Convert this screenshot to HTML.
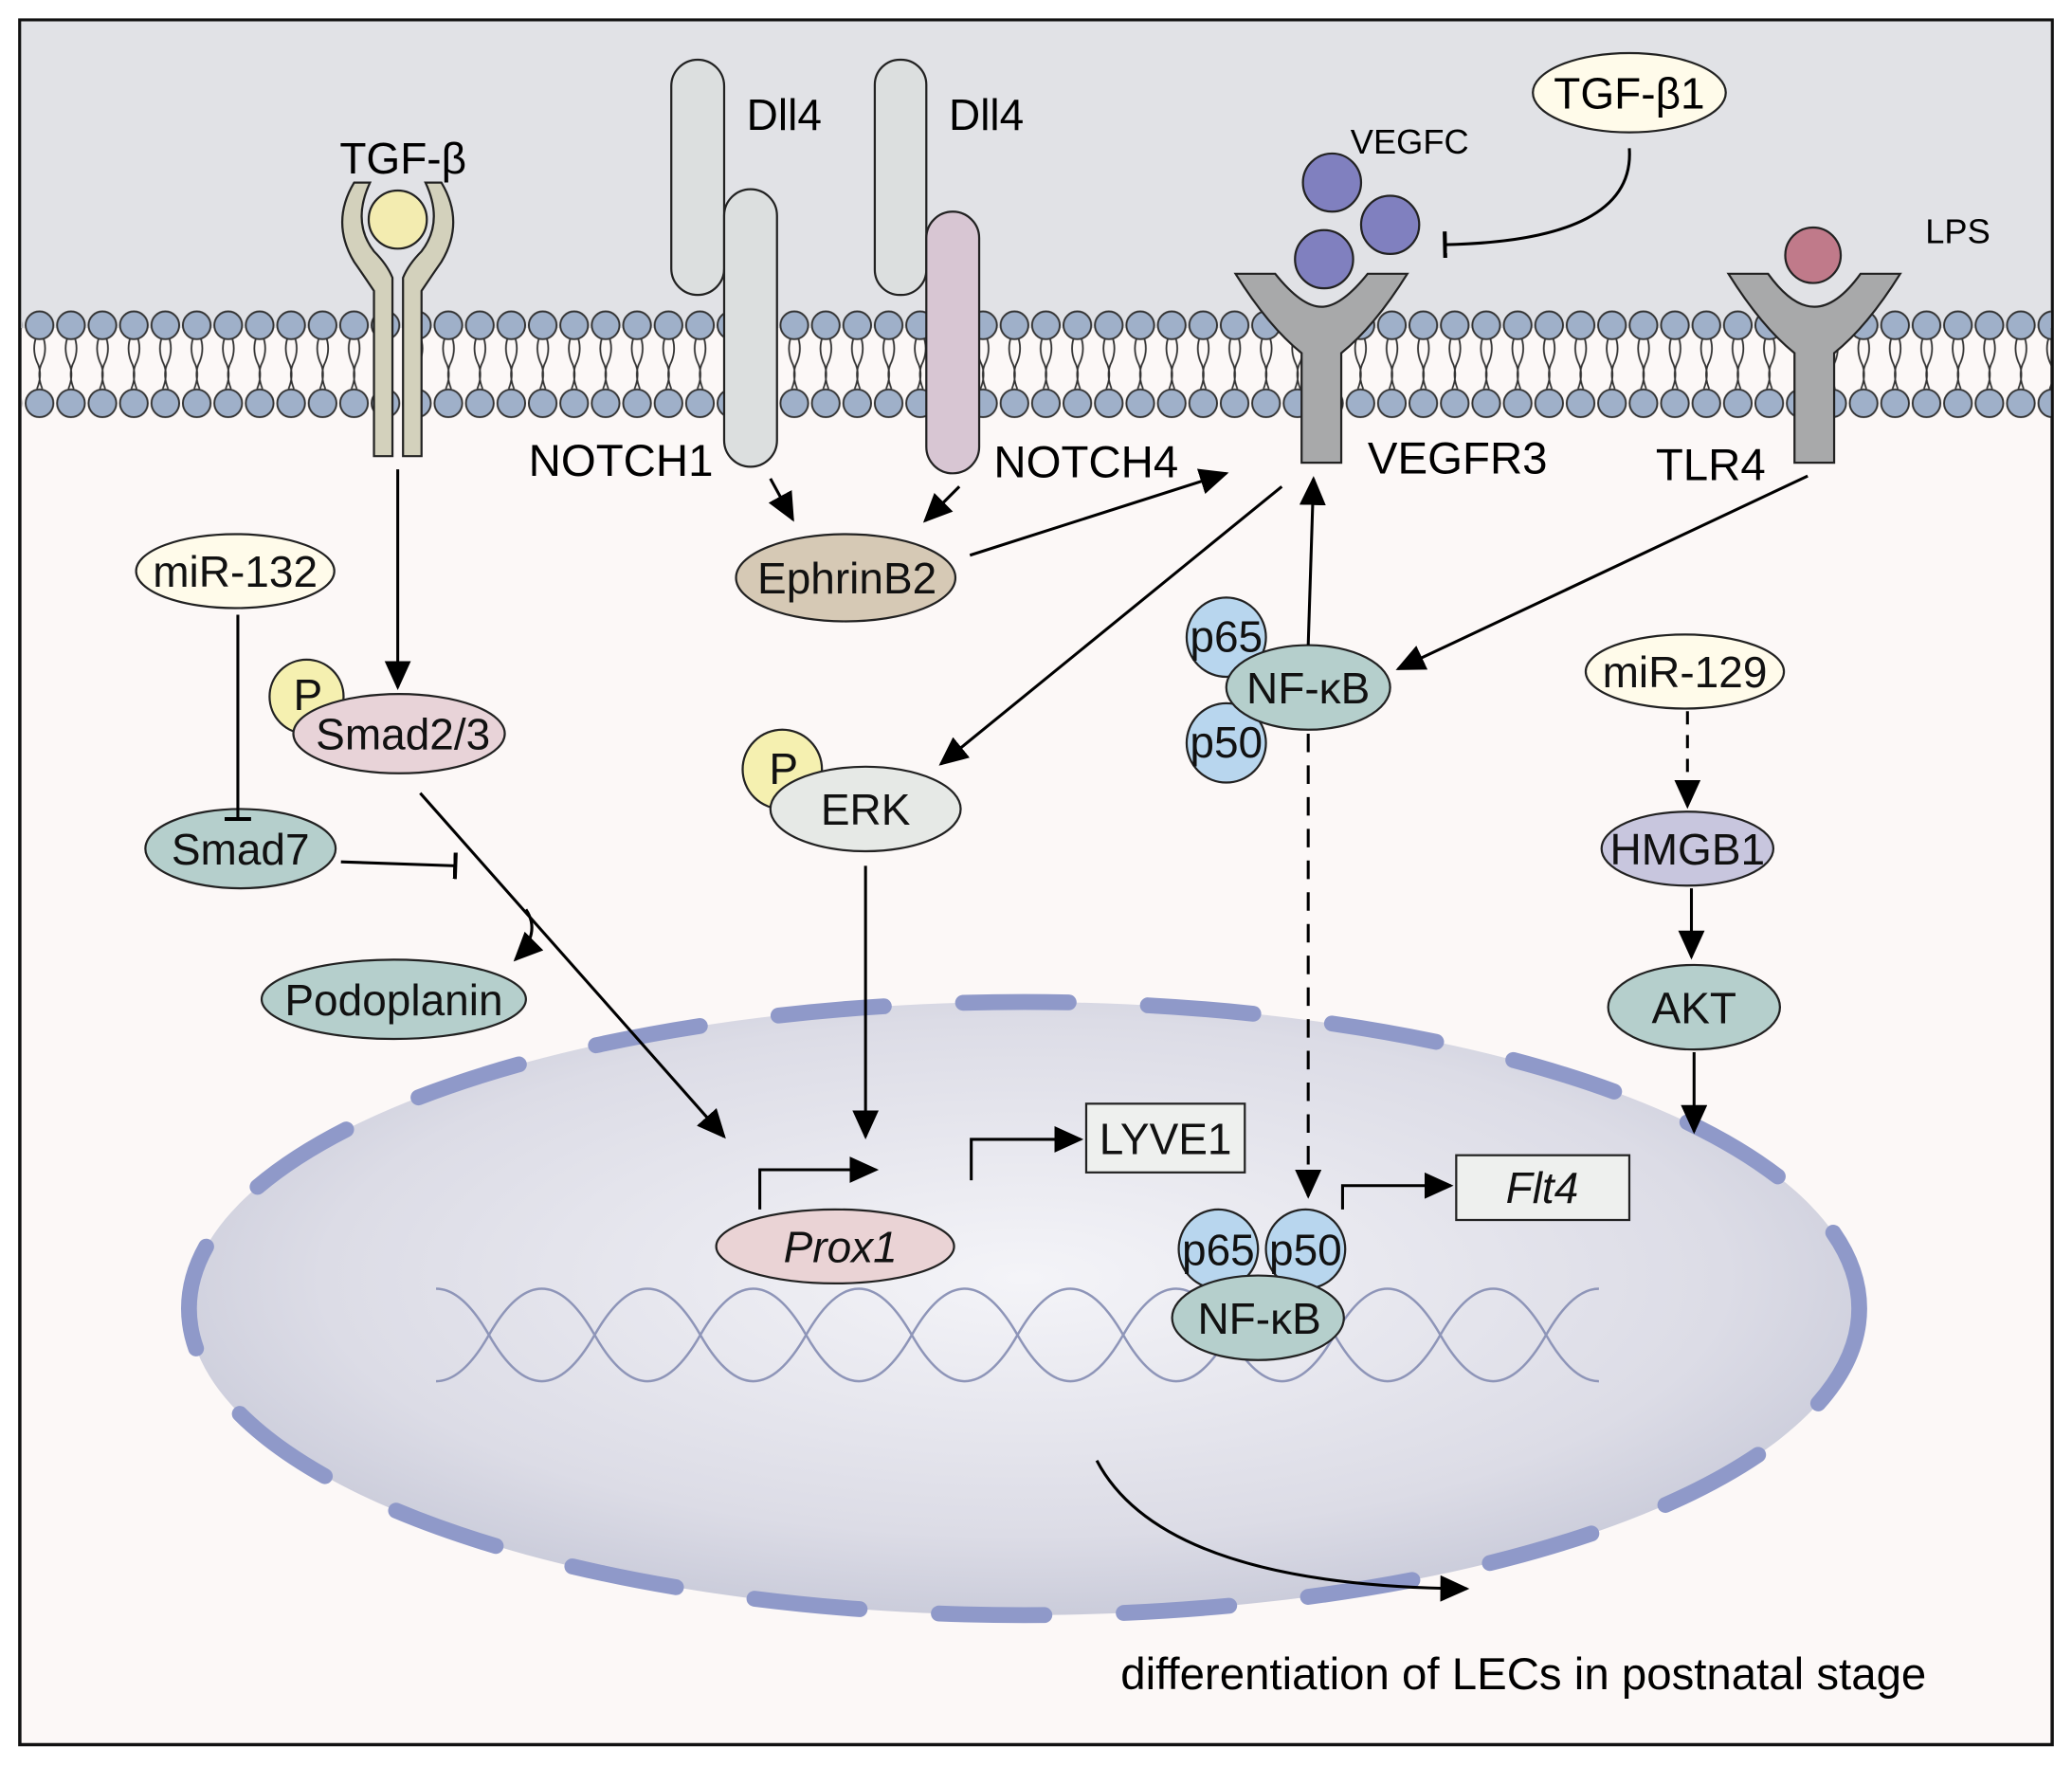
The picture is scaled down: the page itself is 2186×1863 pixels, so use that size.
<!DOCTYPE html>
<html><head><meta charset="utf-8"><style>html,body{margin:0;padding:0;background:#fff}svg{display:block}</style></head>
<body>
<svg width="2186" height="1863" viewBox="0 0 1568 1336" xmlns="http://www.w3.org/2000/svg" font-family="Liberation Sans, sans-serif">
<defs>
<radialGradient id="nuc" cx="50%" cy="45%" r="60%"><stop offset="0" stop-color="#f4f4f8"/><stop offset="0.7" stop-color="#dcdce6"/><stop offset="1" stop-color="#c4c6d6"/></radialGradient>
<marker id="a" markerWidth="22" markerHeight="20" refX="20" refY="10" orient="auto" markerUnits="userSpaceOnUse"><path d="M0,0 L22,10 L0,20z" fill="#000"/></marker>
<marker id="t" markerWidth="4" markerHeight="20" refX="2" refY="10" orient="auto" markerUnits="userSpaceOnUse"><rect x="0" y="0" width="3" height="20" fill="#000"/></marker>
<pattern id="lip" x="18" y="0" width="23.8" height="1336" patternUnits="userSpaceOnUse">
<path d="M9,256 q-3,10 2,20 q3,8 -1,18 M15,256 q3,10 -2,20 q-3,8 1,18" stroke="#333" stroke-width="1.3" fill="none"/>
<circle cx="11.9" cy="246" r="10.5" fill="#9fb0c9" stroke="#333" stroke-width="1.4"/>
<circle cx="11.9" cy="305" r="10.5" fill="#9fb0c9" stroke="#333" stroke-width="1.4"/>
</pattern>
</defs>
<rect x="15" y="15" width="1538" height="1305" fill="#fcf8f7" stroke="#111" stroke-width="2.5"/>
<rect x="16" y="16" width="1536" height="232" fill="#e1e2e6"/>
<rect x="17" y="233" width="1535" height="85" fill="url(#lip)"/>

<path d="M268,198 q-18,-30 0,-60 l12,0 q-14,30 3,52 q10,10 14,20 l0,135 l-14,0 l0,-125 q-8,-12 -15,-22z" fill="#d3d1bc" stroke="#222" stroke-width="1.6"/>
<path d="M334,198 q18,-30 0,-60 l-12,0 q14,30 -3,52 q-10,10 -14,20 l0,135 l14,0 l0,-125 q8,-12 15,-22z" fill="#d3d1bc" stroke="#222" stroke-width="1.6"/>
<circle cx="301" cy="166" r="22" fill="#f3ecb0" stroke="#222" stroke-width="1.6"/>
<text x="305" y="131" font-size="33" text-anchor="middle">TGF-β</text>

<rect x="508" y="45" width="40" height="178" rx="20" fill="#dcdfdf" stroke="#222" stroke-width="1.6"/>
<rect x="548" y="143" width="40" height="210" rx="20" fill="#dcdfdf" stroke="#222" stroke-width="1.6"/>
<rect x="662" y="45" width="39" height="178" rx="19" fill="#dcdfdf" stroke="#222" stroke-width="1.6"/>
<rect x="701" y="160" width="40" height="198" rx="20" fill="#d8c6d3" stroke="#222" stroke-width="1.6"/>
<text x="565" y="98" font-size="33">Dll4</text>
<text x="718" y="98" font-size="33">Dll4</text>
<text x="400" y="360" font-size="34">NOTCH1</text>
<text x="752" y="361" font-size="34">NOTCH4</text>

<path d="M935,207 l30,0 q20,25 35,25 q15,0 35,-25 l30,0 q-25,40 -50,60 l0,83 l-30,0 l0,-83 q-25,-20 -50,-60z" fill="#a8a9aa" stroke="#222" stroke-width="1.6"/>
<circle cx="1008" cy="138" r="22" fill="#8080bf" stroke="#222" stroke-width="1.6"/>
<circle cx="1052" cy="170" r="22" fill="#8080bf" stroke="#222" stroke-width="1.6"/>
<circle cx="1002" cy="196" r="22" fill="#8080bf" stroke="#222" stroke-width="1.6"/>
<text x="1022" y="116" font-size="26">VEGFC</text>
<text x="1035" y="358" font-size="34">VEGFR3</text>
<path d="M1308,207 l30,0 q18,25 35,25 q17,0 35,-25 l30,0 q-25,40 -50,60 l0,83 l-30,0 l0,-83 q-25,-20 -50,-60z" fill="#a8a9aa" stroke="#222" stroke-width="1.6"/>
<circle cx="1372" cy="193" r="21" fill="#c07a8a" stroke="#222" stroke-width="1.6"/>
<text x="1457" y="184" font-size="26">LPS</text>
<text x="1253" y="363" font-size="34">TLR4</text>

<ellipse cx="1233" cy="70" rx="73" ry="30" fill="#fffbea" stroke="#222" stroke-width="1.6"/>
<text x="1233" y="82" font-size="33" text-anchor="middle">TGF-β1</text>
<path d="M1233,112 q5,70 -140,73" fill="none" stroke="#000" stroke-width="2.2" marker-end="url(#t)"/>

<ellipse cx="775" cy="990" rx="632" ry="232" fill="url(#nuc)"/>
<ellipse cx="775" cy="990" rx="632" ry="232" fill="none" stroke="#8f99c9" stroke-width="12" stroke-linecap="round" stroke-dasharray="80 60"/>
<g fill="none" stroke="#8e95b8" stroke-width="1.8">
<path d="M330,975 q20,0 40,35 t40,35 t40,-35 t40,-35 t40,35 t40,35 t40,-35 t40,-35 t40,35 t40,35 t40,-35 t40,-35 t40,35 t40,35 t40,-35 t40,-35 t40,35 t40,35 t40,-35 t40,-35 t40,35 t40,35"/>
<path d="M330,1045 q20,0 40,-35 t40,-35 t40,35 t40,35 t40,-35 t40,-35 t40,35 t40,35 t40,-35 t40,-35 t40,35 t40,35 t40,-35 t40,-35 t40,35 t40,35 t40,-35 t40,-35 t40,35 t40,35 t40,-35 t40,-35"/>
</g>

<g stroke="#222" stroke-width="1.6">
<ellipse cx="178" cy="432" rx="75" ry="28" fill="#fffbea"/>
<circle cx="232" cy="527" r="28" fill="#f5f0b0"/>
<ellipse cx="302" cy="555" rx="80" ry="30" fill="#e8d3d8"/>
<ellipse cx="182" cy="642" rx="72" ry="30" fill="#b5cfcc"/>
<ellipse cx="298" cy="756" rx="100" ry="30" fill="#b5cfcc"/>
<ellipse cx="640" cy="437" rx="83" ry="33" fill="#d6c9b5"/>
<circle cx="592" cy="582" r="30" fill="#f5f0b0"/>
<ellipse cx="655" cy="612" rx="72" ry="32" fill="#e6e9e6"/>
<circle cx="928" cy="482" r="30" fill="#b8d6ee"/>
<circle cx="928" cy="562" r="30" fill="#b8d6ee"/>
<ellipse cx="990" cy="520" rx="62" ry="32" fill="#b5cfcc"/>
<ellipse cx="1275" cy="508" rx="75" ry="28" fill="#fffbea"/>
<ellipse cx="1277" cy="642" rx="65" ry="28" fill="#c8c6de"/>
<ellipse cx="1282" cy="762" rx="65" ry="32" fill="#b5cfcc"/>
<rect x="822" y="835" width="120" height="52" fill="#eef0ee"/>
<rect x="1102" y="874" width="131" height="49" fill="#eef0ee"/>
<ellipse cx="632" cy="943" rx="90" ry="28" fill="#ead3d5"/>
<circle cx="922" cy="945" r="30" fill="#b8d6ee"/>
<circle cx="988" cy="945" r="30" fill="#b8d6ee"/>
<ellipse cx="952" cy="997" rx="65" ry="32" fill="#b5cfcc"/>
</g>
<g font-size="33" text-anchor="middle" fill="#111">
<text x="178" y="444">miR-132</text>
<text x="233" y="537">P</text>
<text x="305" y="567">Smad2/3</text>
<text x="182" y="654">Smad7</text>
<text x="298" y="768">Podoplanin</text>
<text x="641" y="449">EphrinB2</text>
<text x="593" y="593">P</text>
<text x="655" y="624">ERK</text>
<text x="928" y="493">p65</text>
<text x="928" y="573">p50</text>
<text x="990" y="532">NF-κB</text>
<text x="1275" y="520">miR-129</text>
<text x="1277" y="654">HMGB1</text>
<text x="1282" y="774">AKT</text>
<text x="882" y="873">LYVE1</text>
<text x="1167" y="910" font-style="italic">Flt4</text>
<text x="636" y="955" font-style="italic">Prox1</text>
<text x="922" y="957">p65</text>
<text x="988" y="957">p50</text>
<text x="953" y="1009">NF-κB</text>
</g>
<text x="848" y="1278" font-size="34">differentiation of LECs in postnatal stage</text>

<g fill="none" stroke="#000" stroke-width="2.2">
<path d="M301,355 L301,520" marker-end="url(#a)"/>
<path d="M180,465 L180,620" marker-end="url(#t)"/>
<path d="M258,652 L345,655" marker-end="url(#t)"/>
<path d="M318,600 L548,860" marker-end="url(#a)"/>
<path d="M398,688 q12,18 -8,38" marker-end="url(#a)"/>
<path d="M583,362 L600,393" marker-end="url(#a)"/>
<path d="M726,368 L700,394" marker-end="url(#a)"/>
<path d="M734,420 L928,358" marker-end="url(#a)"/>
<path d="M970,368 L712,578" marker-end="url(#a)"/>
<path d="M990,488 L994,362" marker-end="url(#a)"/>
<path d="M1368,360 L1058,506" marker-end="url(#a)"/>
<path d="M990,555 L990,905" stroke-dasharray="14 10" marker-end="url(#a)"/>
<path d="M655,655 L655,860" marker-end="url(#a)"/>
<path d="M1277,538 L1277,610" stroke-dasharray="10 8" marker-end="url(#a)"/>
<path d="M1280,672 L1280,724" marker-end="url(#a)"/>
<path d="M1282,796 L1282,856" marker-end="url(#a)"/>
<path d="M575,915 L575,885 L663,885" marker-end="url(#a)"/>
<path d="M735,893 L735,862 L818,862" marker-end="url(#a)"/>
<path d="M1016,915 L1016,897 L1098,897" marker-end="url(#a)"/>
<path d="M830,1105 q50,95 280,97" marker-end="url(#a)"/>
</g>
</svg>
</body></html>
